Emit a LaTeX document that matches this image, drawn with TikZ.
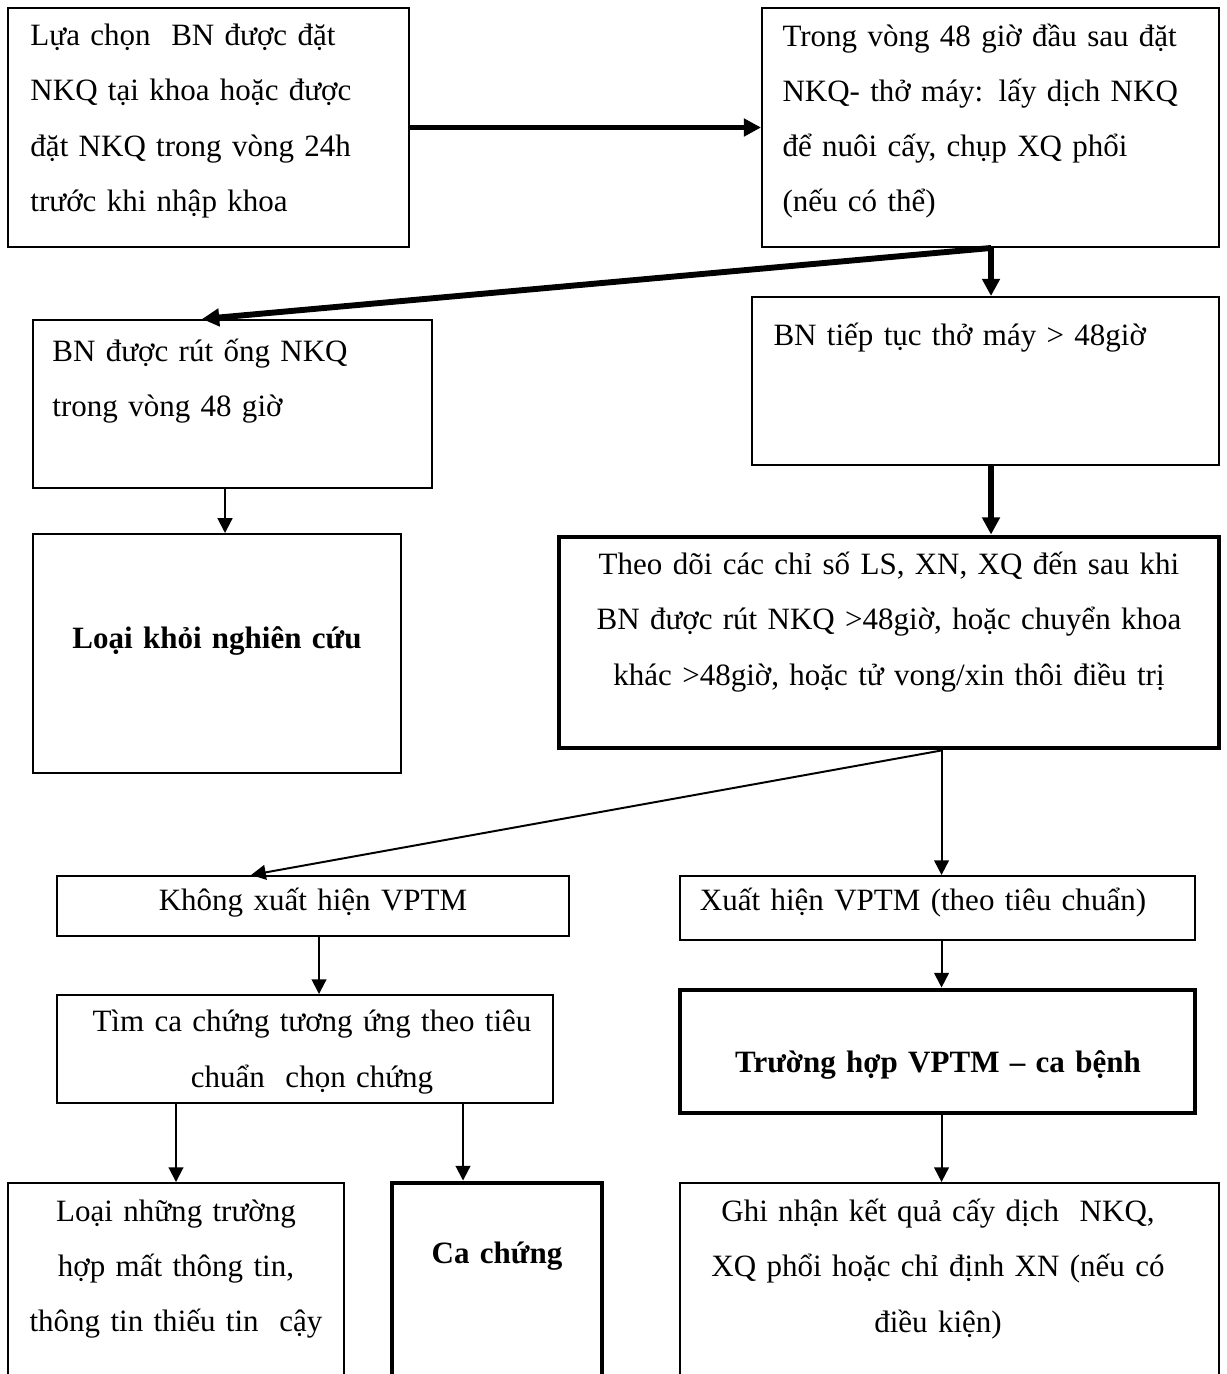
\documentclass[tikz,border=0pt]{standalone}
\usepackage{fontspec}
\setmainfont{Liberation Serif}
\usetikzlibrary{arrows.meta,calc,fit,positioning}
\newcommand\bodyfont{\fontsize{12.6}{22.4}\selectfont}

\begin{document}
\begin{tikzpicture}[x=0.40625pt,y=-0.40625pt,font=\bodyfont,
  box/.style={draw,line width=0.8pt,inner sep=0pt},
  boxb/.style={draw,line width=2pt,inner sep=0pt},
  txt/.style={inner sep=0pt,text width=#1},
  ar/.style={-{Triangle[length=6pt,width=6pt]},line width=0.8pt},
  arb/.style={-{Triangle[length=7pt,width=7pt]},line width=2.4pt}]
  \useasboundingbox (0,0) rectangle (1226,1374);
  \node[box,fit={(8,8) (409,247)}] (sel) {};
  \node[box,fit={(762,8) (1219,247)}] (kt) {};
  \node[box,fit={(33,320) (432,488)}] (rut) {};
  \node[box,fit={(752,297) (1219,465)}] (tiep) {};
  \node[box,fit={(33,534) (401,773)}] (loai) {};
  \node[boxb,fit={(559,537) (1219,748)}] (theodoi) {};
  \node[box,fit={(57,876) (569,936)}] (khong) {};
  \node[box,fit={(680,876) (1195,940)}] (co) {};
  \node[box,fit={(57,995) (553,1103)}] (tim) {};
  \node[boxb,fit={(680,990) (1195,1113)}] (benh) {};
  \node[box,fit={(8,1183) (344,1400)}] (loaibo) {};
  \node[boxb,fit={(392,1183) (602,1400)}] (chung) {};
  \node[box,fit={(680,1183) (1219,1400)}] (ghinhan) {};

  \node[txt=170pt,align=left,anchor=west] (sel-t) at (30,121)
    {Lựa chọn~ BN được đặt\\NKQ tại khoa hoặc được\\đặt NKQ trong vòng 24h\\trước khi nhập khoa};
  \node[txt=185pt,align=left,anchor=west] (kt-t) at (782,121)
    {Trong vòng 48 giờ đầu sau đặt\\NKQ- thở máy: lấy dịch NKQ\\để nuôi cấy, chụp XQ phổi\\(nếu có thể)};
  \node[txt=150pt,align=left,anchor=west] (rut-t) at (52,381) {BN được rút ống NKQ\\trong vòng 48 giờ};
  \node[txt=180pt,align=left,anchor=west] (tiep-t) at (773,338) {BN tiếp tục thở máy > 48giờ};
  \node[txt=150pt,align=center,font=\bodyfont\bfseries] (loai-t) at (217,641) {Loại khỏi nghiên cứu};
  \node[txt=260pt,align=center] (theodoi-t) at (889,622)
    {Theo dõi các chỉ số LS, XN, XQ đến sau khi\\BN được rút NKQ >48giờ, hoặc chuyển khoa\\khác >48giờ, hoặc tử vong/xin thôi điều trị};
  \node[txt=200pt,align=center] (khong-t) at (313,903) {Không xuất hiện VPTM};
  \node[txt=200pt,align=center] (co-t) at (923,903) {Xuất hiện VPTM (theo tiêu chuẩn)};
  \node[txt=200pt,align=center] (tim-t) at (312,1052) {Tìm ca chứng tương ứng theo tiêu\\chuẩn~ chọn chứng};
  \node[txt=200pt,align=center,font=\bodyfont\bfseries] (benh-t) at (938,1065) {Trường hợp VPTM – ca bệnh};
  \node[txt=130pt,align=center] (loaibo-t) at (176,1269) {Loại những trường\\hợp mất thông tin,\\thông tin thiếu tin~ cậy};
  \node[txt=80pt,align=center,font=\bodyfont\bfseries] (chung-t) at (497,1256) {Ca chứng};
  \node[txt=210pt,align=center] (ghinhan-t) at (938,1269) {Ghi nhận kết quả cấy dịch~ NKQ,\\XQ phổi hoặc chỉ định XN (nếu có\\điều kiện)};

  \coordinate (bo) at ($(kt.south west)+(230,0)$);
  \coordinate (ro) at ($(rut.south west)+(193,0)$);
  \coordinate (fo) at ($(theodoi.south west)+(385,0)$);
  \coordinate (go) at ($(khong.south west)+(263,0)$);
  \coordinate (to) at ($(tim.south west)+(407,0)$);
  \draw[arb] (sel) -- (kt);
  \draw[arb] (bo) -- ($(rut.north west)+(170,0)$);
  \draw[arb] (bo) -- (bo |- tiep.north);
  \draw[arb] (bo |- tiep.south) -- (bo |- theodoi.north);
  \draw[ar] (ro) -- (ro |- loai.north);
  \draw[ar] (fo) -- ($(khong.north west)+(195,0)$);
  \draw[ar] (fo) -- (fo |- co.north);
  \foreach \a/\b in {co/benh,benh/ghinhan} \draw[ar] (fo |- \a.south) -- (fo |- \b.north);
  \draw[ar] (go) -- (go |- tim.north);
  \draw[ar] (loaibo.north |- tim.south) -- (loaibo.north);
  \draw[ar] (to) -- (to |- chung.north);
\end{tikzpicture}
\end{document}
